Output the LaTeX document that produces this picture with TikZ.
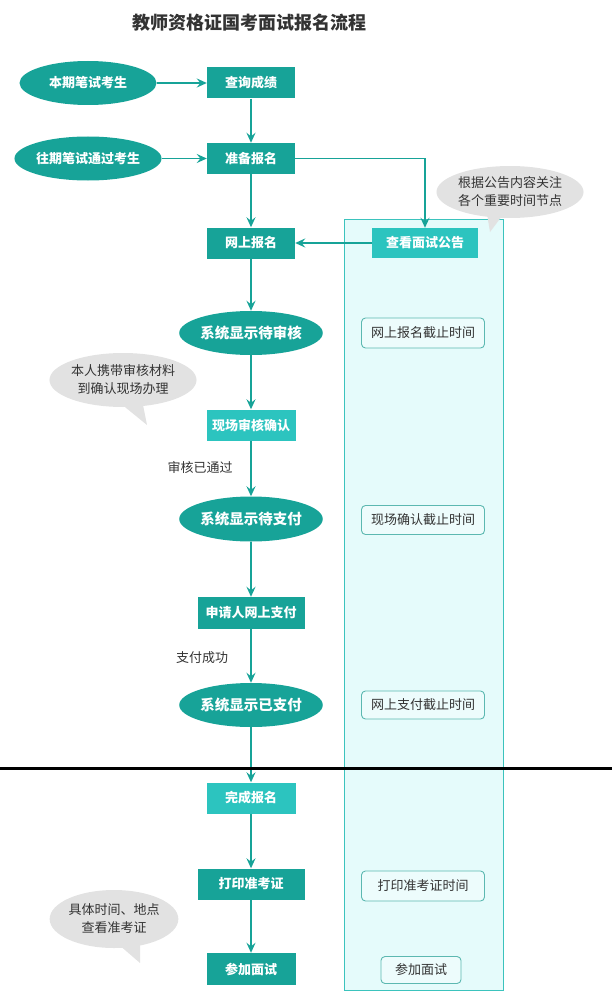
\documentclass[tikz,border=0pt]{standalone}
\usepackage{fontspec}
\setmainfont{Noto Sans CJK SC}
\usetikzlibrary{arrows.meta,shapes.geometric}
\definecolor{tealdark}{HTML}{17A398}
\definecolor{teallight}{HTML}{2CC4BF}
\definecolor{panelfill}{HTML}{E5FBFB}
\definecolor{panelline}{HTML}{3BC3BD}
\definecolor{boxline}{HTML}{5CB8B1}
\definecolor{boxfill}{HTML}{EDFCFC}
\definecolor{bubblegray}{HTML}{E2E2E2}
\definecolor{txt}{HTML}{333333}
\begin{document}
\begin{tikzpicture}[x=1pt,y=-1pt,
  flowbox/.style={rectangle, fill=tealdark, text=white, font=\fontsize{13}{15}\selectfont\bfseries, minimum height=31pt, inner sep=0pt},
  lightbox/.style={flowbox, fill=teallight},
  flowell/.style={ellipse, fill=tealdark, text=white, font=\fontsize{13}{15}\selectfont\bfseries, minimum width=137pt, minimum height=44pt, inner sep=0pt},
  sysell/.style={flowell, font=\fontsize{14.5}{16}\selectfont\bfseries},
  timebox/.style={rectangle, rounded corners=4pt, draw=boxline, line width=0.9pt, fill=boxfill, text=txt, font=\fontsize{13}{15}\selectfont, minimum height=30pt, inner sep=0pt},
  bubble/.style={ellipse, fill=bubblegray, text=txt, font=\fontsize{13}{18}\selectfont, align=center, inner sep=0pt},
  steplabel/.style={text=txt, font=\fontsize{13}{15}\selectfont, inner sep=0pt},
  arr/.style={draw=tealdark, line width=1.8pt, -{Stealth[length=10pt,width=9pt,inset=3.5pt]}},
]
\useasboundingbox (0,0) rectangle (612,1006);
% panel
\draw[fill=panelfill, draw=panelline, line width=1pt] (344,219) rectangle (503,990);
% title
\node[text=txt, font=\fontsize{18}{20}\selectfont\bfseries] (title) at (249,23) {教师资格证国考面试报名流程};
% bubbles
\fill[bubblegray] (486,208) -- (502,216) -- (490,232) -- cycle;
\node[bubble, minimum width=116pt, minimum height=52pt] (bub1) at (510,192) {根据公告内容关注\\各个重要时间节点};
\fill[bubblegray] (120,403) -- (142,400) -- (147,425) -- cycle;
\node[bubble, minimum width=122pt, minimum height=54pt] (bub2) at (123,380) {本人携带审核材料\\到确认现场办理};
\fill[bubblegray] (118,944) -- (140,942) -- (140,963) -- cycle;
\node[bubble, minimum width=123pt, minimum height=58pt] (bub3) at (114,919) {具体时间、地点\\查看准考证};
% main flow
\node[flowell] (e1) at (88,83) {本期笔试考生};
\node[flowbox, minimum width=88pt] (r1) at (251,83) {查询成绩};
\node[flowell] (e2) at (88,158.5) {往期笔试通过考生};
\node[flowbox, minimum width=88pt] (r2) at (251,158.5) {准备报名};
\node[flowbox, minimum width=88pt] (r3) at (251,243) {网上报名};
\node[lightbox, minimum width=106pt, minimum height=30pt] (r4) at (425,243) {查看面试公告};
\node[sysell] (e3) at (251,333) {系统显示待审核};
\node[lightbox, minimum width=89pt] (r5) at (251,425) {现场审核确认};
\node[steplabel] (l1) at (200,468) {审核已通过};
\node[sysell, minimum height=45pt] (e4) at (251,519) {系统显示待支付};
\node[flowbox, minimum width=107pt, minimum height=32pt] (r6) at (251,613) {申请人网上支付};
\node[steplabel] (l2) at (202,658) {支付成功};
\node[sysell] (e5) at (251,705) {系统显示已支付};
\node[lightbox, minimum width=89pt] (r7) at (251,798) {完成报名};
\node[flowbox, minimum width=107pt] (r8) at (251,884) {打印准考证};
\node[flowbox, minimum width=89pt, minimum height=32pt] (r9) at (251,969) {参加面试};
% time boxes
\node[timebox, minimum width=123pt] (b1) at (423,333) {网上报名截止时间};
\node[timebox, minimum width=123pt, minimum height=29pt] (b2) at (423,520) {现场确认截止时间};
\node[timebox, minimum width=123pt, minimum height=28pt] (b3) at (423,705) {网上支付截止时间};
\node[timebox, minimum width=123pt] (b4) at (423,886) {打印准考证时间};
\node[timebox, minimum width=80pt, minimum height=27pt] (b5) at (421,970) {参加面试};
% connectors
\draw[arr] (e1) -- (r1);
\draw[arr] (e2) -- (r2);
\draw[arr] (r1) -- (r2);
\draw[arr] (r2) -- (r3);
\draw[arr] (r2.east) -| (r4.north);
\draw[arr] (r4) -- (r3);
\draw[arr] (r3) -- (e3);
\draw[arr] (e3) -- (r5);
\draw[arr] (r5) -- (e4);
\draw[arr] (e4) -- (r6);
\draw[arr] (r6) -- (e5);
\draw[arr] (e5) -- (r7);
\draw[arr] (r7) -- (r8);
\draw[arr] (r8) -- (r9);
% black divider
\coordinate (divL) at (0,768);
\coordinate (divR) at (612,768);
\draw[black, line width=3pt] (divL) -- (divR);
\end{tikzpicture}
\end{document}
